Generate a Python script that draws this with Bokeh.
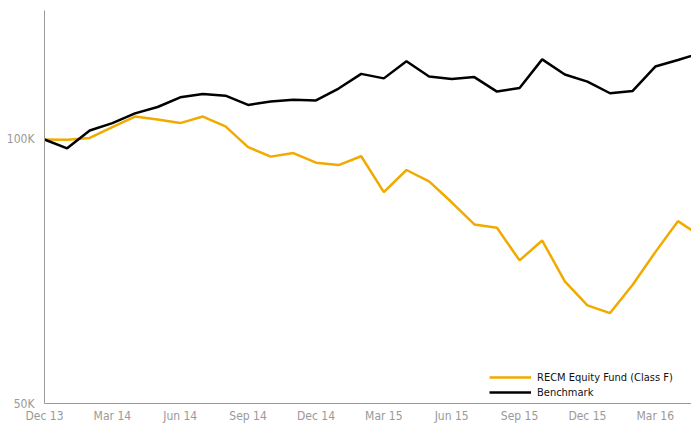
from bokeh.plotting import figure
from bokeh.models import FixedTicker, Range1d, Legend, LegendItem
from bokeh.embed import file_html
from bokeh.resources import INLINE

# monthly index: 0 = Dec 13 ... 29 = May 16
months = list(range(30))
fund = [100.0, 99.9, 100.4, 103.3, 106.2, 105.4, 104.4, 106.2, 103.5, 98.0,
        95.6, 96.5, 94.1, 93.5, 95.7, 87.1, 92.3, 89.6, 84.8, 80.0,
        79.3, 72.8, 76.7, 68.9, 64.7, 63.4, 68.3, 74.4, 80.7, 77.6]
benchmark = [100.0, 97.7, 102.4, 104.4, 107.1, 108.9, 111.7, 112.7, 112.2, 109.5,
             110.5, 111.0, 110.8, 114.3, 118.8, 117.4, 122.8, 118.0, 117.2, 117.8,
             113.4, 114.5, 123.4, 118.6, 116.4, 112.9, 113.6, 121.1, 123.2, 125.5]
fund = [v * 1000 for v in fund]
benchmark = [v * 1000 for v in benchmark]

x_ticks = [0, 3, 6, 9, 12, 15, 18, 21, 24, 27]
x_labels = ["Dec 13", "Mar 14", "Jun 14", "Sep 14", "Dec 14",
            "Mar 15", "Jun 15", "Sep 15", "Dec 15", "Mar 16"]
y_ticks = [50000, 100000]
y_labels = ["50K", "100K"]

FONT = "'DejaVu Sans Condensed', 'Liberation Sans Narrow', Roboto, sans-serif"
GRAY = "#999999"

p = figure(width=691, height=425, y_axis_type="log",
           x_range=Range1d(0, 28.6), y_range=Range1d(50000, 140300),
           output_backend="svg", toolbar_location=None,
           min_border_left=44, min_border_right=0, min_border_top=10,
           min_border_bottom=22)
p.outline_line_color = None
p.xgrid.visible = False
p.ygrid.visible = False
p.background_fill_color = "white"
p.border_fill_color = "white"

r1 = p.line(months, fund, line_color="#F0AA00", line_width=2.5)
r2 = p.line(months, benchmark, line_color="#000000", line_width=2.5)

for ax in (p.xaxis[0], p.yaxis[0]):
    ax.axis_line_color = GRAY
    ax.axis_line_width = 1
    ax.major_tick_line_color = None
    ax.minor_tick_line_color = None
    ax.major_tick_out = 0
    ax.major_tick_in = 0
    ax.minor_tick_out = 0
    ax.major_label_text_color = GRAY
    ax.major_label_text_font = FONT
    ax.major_label_text_font_size = "12px"

p.xaxis[0].ticker = FixedTicker(ticks=x_ticks)
p.xaxis[0].major_label_overrides = dict(zip(x_ticks, x_labels))
p.xaxis[0].major_label_standoff = 5
p.yaxis[0].ticker = FixedTicker(ticks=y_ticks, minor_ticks=[])
p.yaxis[0].major_label_overrides = dict(zip(y_ticks, y_labels))
p.yaxis[0].major_label_standoff = 10

legend = Legend(items=[LegendItem(label="RECM Equity Fund (Class F)", renderers=[r1]),
                       LegendItem(label="Benchmark", renderers=[r2])],
                location=(445, 4))
legend.border_line_color = None
legend.background_fill_alpha = 0
legend.glyph_width = 42
legend.glyph_height = 14
legend.label_height = 14
legend.spacing = 1
legend.padding = 4
legend.label_standoff = 6
legend.label_text_font = FONT
legend.label_text_font_size = "11px"
legend.label_text_color = "#111111"
p.add_layout(legend)

open("out.html", "w").write(file_html(p, INLINE))
